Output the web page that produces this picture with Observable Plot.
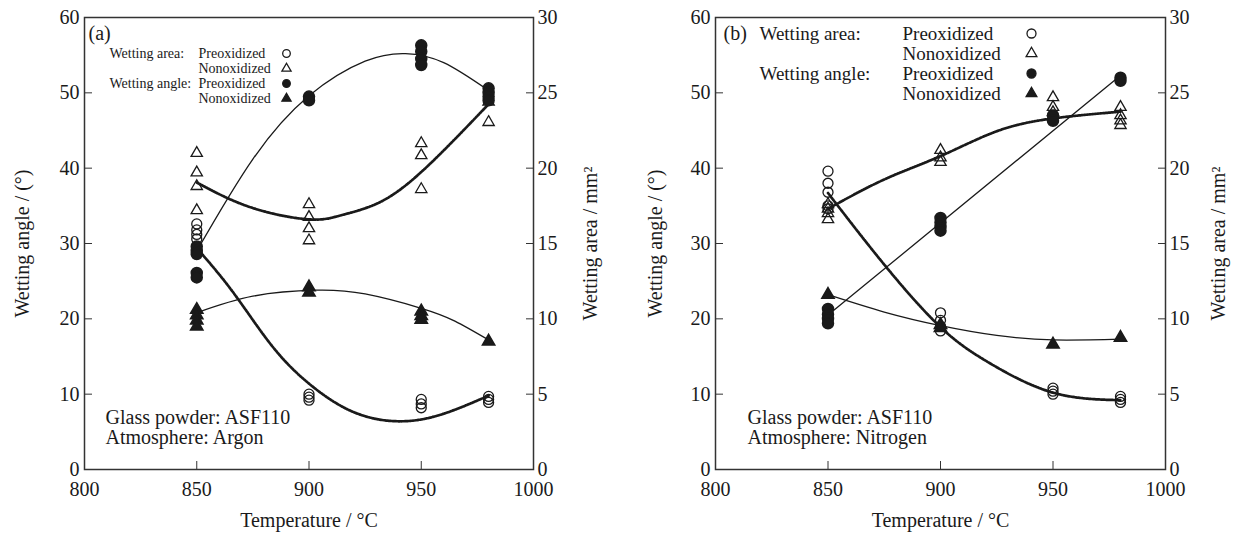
<!DOCTYPE html>
<html>
<head>
<meta charset="utf-8">
<script src="https://cdn.jsdelivr.net/npm/d3@7"></script>
<script src="https://cdn.jsdelivr.net/npm/@observablehq/plot@0.6"></script>
<style>
  html, body { margin: 0; padding: 0; background: #fff; }
  #wrap { display: flex; width: 1234px; height: 533px; }
  svg { font-family: "Liberation Serif", "DejaVu Serif", serif; }
</style>
</head>
<body>
<div id="wrap"></div>
<script>
// ---------- shared axis setup ----------
const xTicks = [800, 850, 900, 950, 1000];
const angleTicks = [0, 10, 20, 30, 40, 50, 60];   // left axis, wetting angle (°)
const areaPerAngle = 0.5;                           // right axis: 0–30 mm² spans 0–60 °
const legendSeries = ["Preoxidized", "Nonoxidized", "Preoxidized", "Nonoxidized"];
const legendGroups = ["Wetting area:", "Wetting angle:"];

// ---------- panel (a): Argon ----------
// wetting angle (°)
const aAngPre = [[850,29.6],[850,29.0],[850,28.6],[850,26.1],[850,25.5],[900,49.5],[900,49.0],
                 [950,56.3],[950,55.5],[950,54.5],[950,53.7],[980,50.6],[980,50.0],[980,49.5],[980,49.0]];
const aAngNon = [[850,21.2],[850,20.5],[850,19.8],[850,19.0],[900,24.2],[900,23.5],
                 [950,21.0],[950,20.4],[950,19.9],[980,17.0]];
// wetting area (mm²)
const aAreaPre = [[850,16.3],[850,15.9],[850,15.6],[850,15.3],[900,5.0],[900,4.8],[900,4.6],
                  [950,4.65],[950,4.35],[950,4.1],[980,4.85],[980,4.65],[980,4.45]];
const aAreaNon = [[850,21.0],[850,19.7],[850,18.8],[850,17.2],[900,17.6],[900,16.75],[900,16.0],[900,15.2],
                  [950,21.65],[950,20.85],[950,18.6],[980,24.4],[980,23.05]];
// fitted curves
const aFitAngPre = [[850,29.0],[875,41.2],[900,49.6],[925,54.2],[943,55.2],[960,54.0],[980,50.3]];
const aFitAngNon = [[850,20.8],[875,23.0],[903,23.8],[925,23.3],[950,21.4],[965,19.7],[980,17.2]];
const aFitAreaPre = [[850,14.7],[866,11.8],[883,8.3],[900,5.7],[920,3.8],[941,3.2],[960,3.7],[980,4.9]];
const aFitAreaNon = [[850,19.05],[874,17.4],[900,16.6],[915,16.9],[933,17.85],[954,20.3],[980,24.25]];

// ---------- panel (b): Nitrogen ----------
const bAngPre = [[850,21.3],[850,20.6],[850,20.0],[850,19.4],[900,33.4],[900,32.8],[900,32.2],[900,31.7],
                 [950,47.0],[950,46.3],[980,52.0],[980,51.6]];
const bAngNon = [[850,23.2],[900,19.2],[900,18.8],[950,16.6],[980,17.5]];
const bAreaPre = [[850,19.8],[850,19.0],[850,18.4],[850,17.5],[850,17.3],[900,10.4],[900,9.9],[900,9.5],[900,9.2],
                  [950,5.4],[950,5.2],[950,5.0],[980,4.85],[980,4.65],[980,4.45]];
const bAreaNon = [[850,17.6],[850,17.3],[850,17.0],[850,16.6],[900,21.2],[900,20.7],[900,20.4],
                  [950,24.7],[950,24.05],[950,23.7],[980,24.05],[980,23.5],[980,23.15],[980,22.85]];
const bFitAngPre = [[850,20.5],[980,52.3]];
const bFitAngNon = [[850,23.2],[875,20.9],[900,19.1],[925,17.8],[950,17.2],[980,17.3]];
const bFitAreaPre = [[850,18.35],[875,13.6],[900,9.45],[922,7.05],[950,5.1],[980,4.6]];
const bFitAreaNon = [[850,17.3],[875,19.25],[900,20.8],[925,22.45],[950,23.3],[980,23.75]];

const INK = "#1a1a1a";
const FS = 20;

function panel(cfg) {
  const X = d => d[0];
  const Yang = d => d[1];
  const Yarea = d => d[1] / areaPerAngle;
  const L = cfg.legend;
  const legendText = [
    {t: legendGroups[0], col: 0, row: 0},
    {t: legendSeries[0], col: 1, row: 0},
    {t: legendSeries[1], col: 1, row: 1},
    {t: legendGroups[1], col: 0, row: 2},
    {t: legendSeries[2], col: 1, row: 2},
    {t: legendSeries[3], col: 1, row: 3}
  ];
  const legendSym = [
    {row: 0, symbol: "circle", fill: "none", r: L.rc},
    {row: 1, symbol: "triangle", fill: "none", r: L.rt},
    {row: 2, symbol: "circle", fill: INK, r: L.rc},
    {row: 3, symbol: "triangle", fill: INK, r: L.rt}
  ];
  const T = {fill: INK, lineAnchor: "middle"};
  const marks = [
    Plot.frame({stroke: "#333", strokeWidth: 1.5}),
    // inward ticks + labels
    Plot.axisY({anchor: "left", ticks: angleTicks, tickSize: 8, dx: 8, tickPadding: 5, label: null,
                fontSize: FS, stroke: "#333", color: INK}),
    Plot.axisY({anchor: "right", ticks: angleTicks, tickSize: 8, dx: -8, tickPadding: 4, label: null,
                tickFormat: d => String(d * areaPerAngle), fontSize: FS, stroke: "#333", color: INK}),
    Plot.axisX({anchor: "bottom", ticks: xTicks, tickSize: 8, dy: -8, tickPadding: 12, label: null,
                tickFormat: d => String(d), fontSize: FS, stroke: "#333", color: INK}),
    // axis titles
    Plot.text(["Wetting angle / (°)"], {...T, frameAnchor: "left", textAnchor: "middle", dx: -cfg.leftTitle, rotate: -90, fontSize: FS}),
    Plot.text(["Wetting area / mm²"], {...T, frameAnchor: "right", textAnchor: "middle", dx: cfg.rightTitle, rotate: -90, fontSize: FS}),
    Plot.text(["Temperature / °C"], {...T, frameAnchor: "bottom", textAnchor: "middle", dy: 51, fontSize: FS}),
    // fitted curves
    Plot.line(cfg.fitAreaPre, {x: X, y: Yarea, curve: "natural", stroke: INK, strokeWidth: 2.7, strokeDasharray: "1.6,1.1"}),
    Plot.line(cfg.fitAreaNon, {x: X, y: Yarea, curve: "natural", stroke: INK, strokeWidth: 2.7, strokeDasharray: "1.6,1.1"}),
    Plot.line(cfg.fitAngPre, {x: X, y: Yang, curve: "natural", stroke: INK, strokeWidth: 1.3}),
    Plot.line(cfg.fitAngNon, {x: X, y: Yang, curve: "natural", stroke: INK, strokeWidth: 1.3}),
    // data points
    Plot.dot(cfg.areaPre, {x: X, y: Yarea, symbol: "circle", r: 5, fill: "none", stroke: INK, strokeWidth: 1.3}),
    Plot.dot(cfg.areaNon, {x: X, y: Yarea, symbol: "triangle", r: 4.2, fill: "none", stroke: INK, strokeWidth: 1.3}),
    Plot.dot(cfg.angPre, {x: X, y: Yang, symbol: "circle", r: 5.5, fill: INK, stroke: INK}),
    Plot.dot(cfg.angNon, {x: X, y: Yang, symbol: "triangle", r: 4.6, fill: INK, stroke: INK}),
    // panel tag
    Plot.text([cfg.tag], {...T, frameAnchor: "top-left", dx: cfg.tagDx, dy: 16, textAnchor: "start", fontSize: FS}),
    // annotation
    Plot.text([cfg.note1], {...T, frameAnchor: "bottom-left", dx: cfg.noteDx, dy: -52, textAnchor: "start", fontSize: FS}),
    Plot.text([cfg.note2], {...T, frameAnchor: "bottom-left", dx: cfg.noteDx, dy: -32, textAnchor: "start", fontSize: FS})
  ];
  // legend (one mark per entry so the offsets stay constant)
  for (const e of legendText) {
    marks.push(Plot.text([e.t], {...T, frameAnchor: "top-left", textAnchor: "start",
      dx: e.col === 0 ? L.x0 : L.x1, dy: L.y0 + e.row * L.dy, fontSize: L.fs}));
  }
  for (const s of legendSym) {
    marks.push(Plot.dot([0], {frameAnchor: "top-left", dx: L.xs, dy: L.y0 + s.row * L.dy,
      symbol: s.symbol, r: s.r, fill: s.fill, stroke: INK, strokeWidth: 1.3}));
  }
  return Plot.plot({
    width: 617,
    height: 533,
    marginLeft: cfg.ml,
    marginRight: cfg.mr,
    marginTop: 17,
    marginBottom: 64,
    x: {domain: [800, 1000], axis: null},
    y: {domain: [0, 60], axis: null},
    style: {fontFamily: "'Liberation Serif', 'DejaVu Serif', serif", color: INK, background: "#fff", overflow: "visible"},
    marks
  });
}

const wrap = document.getElementById("wrap");
wrap.append(panel({
  ml: 84, mr: 84, leftTitle: 62, rightTitle: 57, tag: "(a)", tagDx: 4,
  legend: {fs: 14, x0: 25, x1: 114, xs: 202, y0: 36, dy: 15, rc: 3.8, rt: 3.4},
  note1: "Glass powder: ASF110", note2: "Atmosphere: Argon", noteDx: 21,
  angPre: aAngPre, angNon: aAngNon, areaPre: aAreaPre, areaNon: aAreaNon,
  fitAngPre: aFitAngPre, fitAngNon: aFitAngNon, fitAreaPre: aFitAreaPre, fitAreaNon: aFitAreaNon
}));
wrap.append(panel({
  ml: 98, mr: 69, leftTitle: 60, rightTitle: 53, tag: "(b)", tagDx: 8,
  legend: {fs: 19, x0: 44, x1: 187, xs: 316, y0: 16, dy: 20, rc: 4.5, rt: 4},
  note1: "Glass powder: ASF110", note2: "Atmosphere: Nitrogen", noteDx: 32,
  angPre: bAngPre, angNon: bAngNon, areaPre: bAreaPre, areaNon: bAreaNon,
  fitAngPre: bFitAngPre, fitAngNon: bFitAngNon, fitAreaPre: bFitAreaPre, fitAreaNon: bFitAreaNon
}));
</script>
</body>
</html>
